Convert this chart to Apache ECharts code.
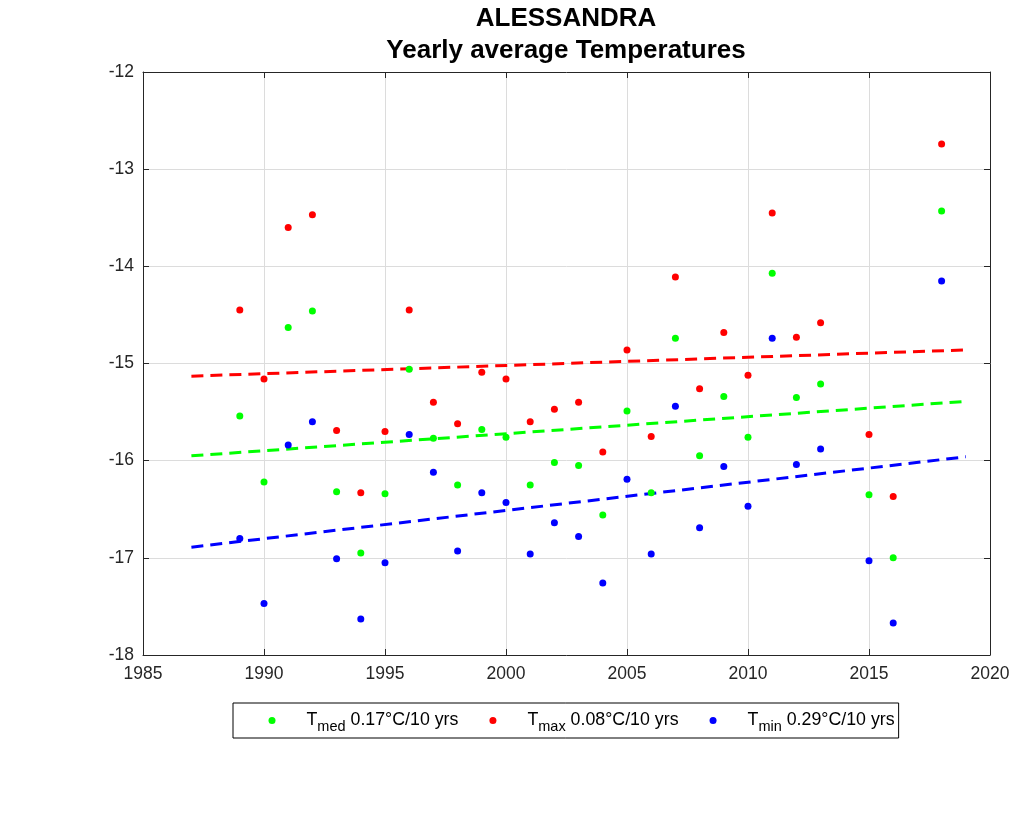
<!DOCTYPE html>
<html>
<head>
<meta charset="UTF-8">
<title>ALESSANDRA - Yearly average Temperatures</title>
<script src="https://cdn.jsdelivr.net/npm/echarts/dist/echarts.min.js"></script>
<style>
  html, body { margin: 0; padding: 0; background: #fff; }
  #main { width: 1024px; height: 820px; }
</style>
</head>
<body>
<div id="main"></div>
<script>
// yearly values
let years = [1989, 1990, 1991, 1992, 1993, 1994, 1995, 1996, 1997, 1998, 1999, 2000, 2001, 2002,
             2003, 2004, 2005, 2006, 2007, 2008, 2009, 2010, 2011, 2012, 2013, 2015, 2016, 2018];
let tmed = [-15.54, -16.22, -14.63, -14.46, -16.32, -16.95, -16.34, -15.06, -15.77, -16.25, -15.68, -15.76, -16.25, -16.02,
            -16.05, -16.56, -15.49, -16.33, -14.74, -15.95, -15.34, -15.76, -14.07, -15.35, -15.21, -16.35, -17.00, -13.43];
let tmax = [-14.45, -15.16, -13.60, -13.47, -15.69, -16.33, -15.70, -14.45, -15.40, -15.62, -15.09, -15.16, -15.60, -15.47,
            -15.40, -15.91, -14.86, -15.75, -14.11, -15.26, -14.68, -15.12, -13.45, -14.73, -14.58, -15.73, -16.37, -12.74];
let tmin = [-16.80, -17.47, -15.84, -15.60, -17.01, -17.63, -17.05, -15.73, -16.12, -16.93, -16.33, -16.43, -16.96, -16.64,
            -16.78, -17.26, -16.19, -16.96, -15.44, -16.69, -16.06, -16.47, -14.74, -16.04, -15.88, -17.03, -17.67, -14.15];

// trend lines (end points)
let trendYears = [1987, 2019];
let tmedTrend = [-15.95, -15.39];
let tmaxTrend = [-15.13, -14.86];
let tminTrend = [-16.89, -15.96];

let names = ['Tmed', 'Tmax', 'Tmin'];
let labels = {
    Tmed: ['med', ' 0.17°C/10 yrs'],
    Tmax: ['max', ' 0.08°C/10 yrs'],
    Tmin: ['min', ' 0.29°C/10 yrs']
};

let xTicks = [1985, 1990, 1995, 2000, 2005, 2010, 2015, 2020];
let yTicks = [-18, -17, -16, -15, -14, -13, -12];

function pairs(xs, ys) {
    return xs.map(function (x, i) { return [x, ys[i]]; });
}

let axisColor = '#262626';
let font = 'Liberation Sans, Arial, sans-serif';

let myChart = echarts.init(document.getElementById('main'));

let xBase = {
    type: 'value',
    min: xTicks[0],
    max: xTicks[xTicks.length - 1],
    interval: 5,
    axisLine: { show: true, lineStyle: { color: axisColor, width: 1 } },
    axisTick: { show: true, inside: true, length: 6, lineStyle: { color: axisColor } }
};
let yBase = {
    type: 'value',
    min: yTicks[0],
    max: yTicks[yTicks.length - 1],
    interval: 1,
    axisLine: { show: true, lineStyle: { color: axisColor, width: 1 } },
    axisTick: { show: true, inside: true, length: 6, lineStyle: { color: axisColor } }
};

function scatter(name, vals, color) {
    return {
        name: name,
        type: 'scatter',
        data: pairs(years, vals),
        symbol: 'circle',
        symbolSize: 7,
        itemStyle: { color: color, opacity: 1 },
        z: 3
    };
}
function trend(name, vals, color) {
    return {
        name: name + ' trend',
        type: 'line',
        data: pairs(trendYears, vals),
        showSymbol: false,
        lineStyle: { color: color, width: 3, type: [12, 7] },
        itemStyle: { color: color },
        silent: true,
        z: 2
    };
}

myChart.setOption({
    animation: false,
    backgroundColor: '#fff',
    title: {
        text: 'ALESSANDRA\nYearly average Temperatures',
        left: 566,
        top: 3,
        padding: 0,
        textAlign: 'center',
        textStyle: {
            fontFamily: font,
            fontSize: 26,
            fontWeight: 'bold',
            color: '#000',
            lineHeight: 32
        }
    },
    grid: { left: 143, right: 34, top: 72, bottom: 165 },
    legend: {
        data: names,
        left: 233,
        top: 703,
        orient: 'horizontal',
        icon: 'circle',
        itemWidth: 7,
        itemHeight: 7,
        itemGap: 31,
        padding: [4, 4, 4, 35.5],
        borderColor: '#000',
        borderWidth: 1,
        selectedMode: false,
        formatter: function (name) {
            return '{s|}{a|T}{b|' + labels[name][0] + '}{a|' + labels[name][1] + '}';
        },
        textStyle: {
            fontFamily: font,
            color: '#000',
            rich: {
                s: { width: 26, lineHeight: 20 },
                a: { fontFamily: font, fontSize: 17.8, color: '#000', lineHeight: 20, verticalAlign: 'middle' },
                b: { fontFamily: font, fontSize: 14.5, color: '#000', lineHeight: 20, padding: [12, 0, 0, 0], verticalAlign: 'middle' }
            }
        }
    },
    xAxis: [
        Object.assign({}, xBase, {
            position: 'bottom',
            axisLabel: { show: true, color: axisColor, fontFamily: font, fontSize: 17.5, margin: 10,
                         formatter: function (v) { return String(v); } },
            splitLine: { show: true, lineStyle: { color: '#dcdcdc', width: 1 } }
        }),
        Object.assign({}, xBase, {
            position: 'top',
            axisLabel: { show: false },
            splitLine: { show: false }
        })
    ],
    yAxis: [
        Object.assign({}, yBase, {
            position: 'left',
            axisLabel: { show: true, color: axisColor, fontFamily: font, fontSize: 17.5, margin: 9 },
            splitLine: { show: true, lineStyle: { color: '#dcdcdc', width: 1 } }
        }),
        Object.assign({}, yBase, {
            position: 'right',
            axisLabel: { show: false },
            splitLine: { show: false }
        })
    ],
    series: [
        trend('Tmax', tmaxTrend, '#ff0000'),
        trend('Tmed', tmedTrend, '#00ff00'),
        trend('Tmin', tminTrend, '#0000ff'),
        scatter('Tmed', tmed, '#00ff00'),
        scatter('Tmax', tmax, '#ff0000'),
        scatter('Tmin', tmin, '#0000ff')
    ]
});
</script>
</body>
</html>
